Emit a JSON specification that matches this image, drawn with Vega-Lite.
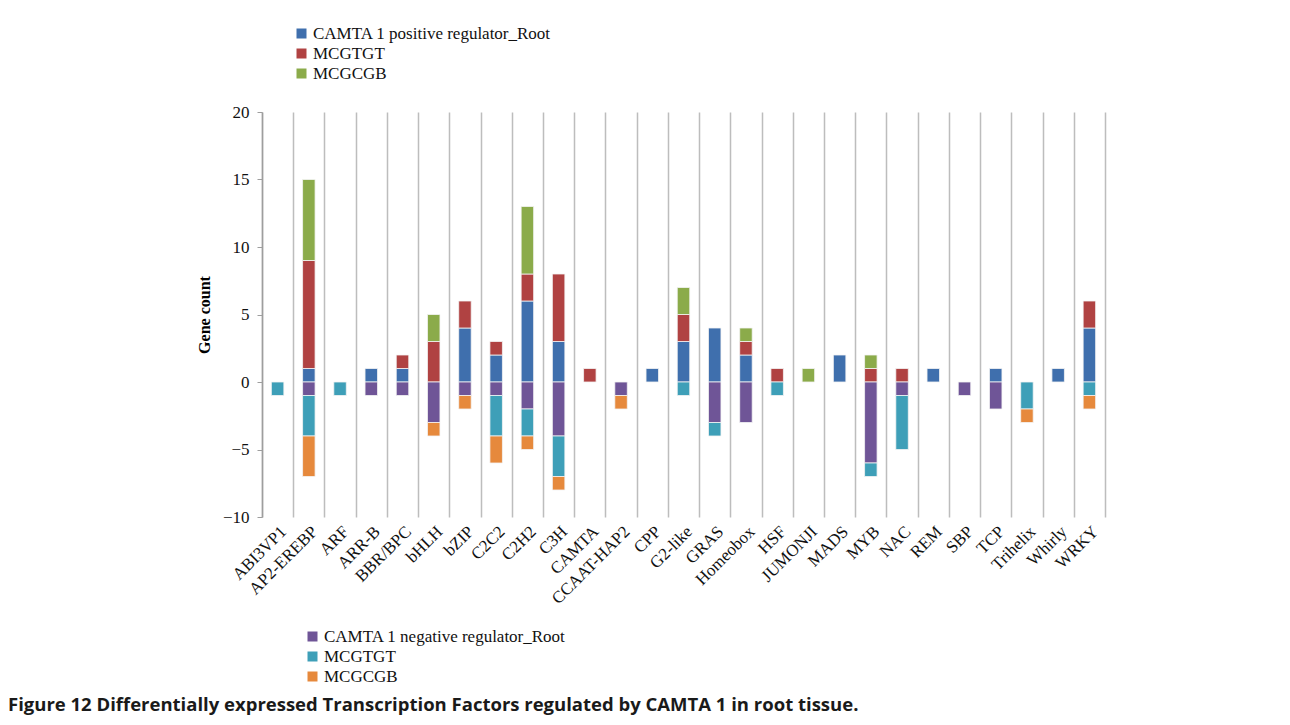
{
  "$schema": "https://vega.github.io/schema/vega-lite/v6.json",
  "width": 843,
  "height": 405,
  "autosize": "none",
  "padding": {"left": 262, "top": 112, "right": 185, "bottom": 208},
  "background": "white",
  "title": {
    "text": "Figure 12 Differentially expressed Transcription Factors regulated by CAMTA 1 in root tissue.",
    "orient": "bottom",
    "anchor": "start",
    "frame": "group",
    "font": "Open Sans",
    "fontSize": 18.5,
    "fontWeight": "bold",
    "color": "#1a1a1a",
    "offset": 11,
    "dx": -254
  },
  "data": {
    "values": [
      {"tf": "ABI3VP1", "series": "MCGTGT", "sign": "neg", "count": -1},
      {"tf": "AP2-EREBP", "series": "CAMTA 1 positive regulator_Root", "sign": "pos", "count": 1},
      {"tf": "AP2-EREBP", "series": "MCGTGT", "sign": "pos", "count": 8},
      {"tf": "AP2-EREBP", "series": "MCGCGB", "sign": "pos", "count": 6},
      {"tf": "AP2-EREBP", "series": "CAMTA 1 negative regulator_Root", "sign": "neg", "count": -1},
      {"tf": "AP2-EREBP", "series": "MCGTGT", "sign": "neg", "count": -3},
      {"tf": "AP2-EREBP", "series": "MCGCGB", "sign": "neg", "count": -3},
      {"tf": "ARF", "series": "MCGTGT", "sign": "neg", "count": -1},
      {"tf": "ARR-B", "series": "CAMTA 1 positive regulator_Root", "sign": "pos", "count": 1},
      {"tf": "ARR-B", "series": "CAMTA 1 negative regulator_Root", "sign": "neg", "count": -1},
      {"tf": "BBR/BPC", "series": "CAMTA 1 positive regulator_Root", "sign": "pos", "count": 1},
      {"tf": "BBR/BPC", "series": "MCGTGT", "sign": "pos", "count": 1},
      {"tf": "BBR/BPC", "series": "CAMTA 1 negative regulator_Root", "sign": "neg", "count": -1},
      {"tf": "bHLH", "series": "MCGTGT", "sign": "pos", "count": 3},
      {"tf": "bHLH", "series": "MCGCGB", "sign": "pos", "count": 2},
      {"tf": "bHLH", "series": "CAMTA 1 negative regulator_Root", "sign": "neg", "count": -3},
      {"tf": "bHLH", "series": "MCGCGB", "sign": "neg", "count": -1},
      {"tf": "bZIP", "series": "CAMTA 1 positive regulator_Root", "sign": "pos", "count": 4},
      {"tf": "bZIP", "series": "MCGTGT", "sign": "pos", "count": 2},
      {"tf": "bZIP", "series": "CAMTA 1 negative regulator_Root", "sign": "neg", "count": -1},
      {"tf": "bZIP", "series": "MCGCGB", "sign": "neg", "count": -1},
      {"tf": "C2C2", "series": "CAMTA 1 positive regulator_Root", "sign": "pos", "count": 2},
      {"tf": "C2C2", "series": "MCGTGT", "sign": "pos", "count": 1},
      {"tf": "C2C2", "series": "CAMTA 1 negative regulator_Root", "sign": "neg", "count": -1},
      {"tf": "C2C2", "series": "MCGTGT", "sign": "neg", "count": -3},
      {"tf": "C2C2", "series": "MCGCGB", "sign": "neg", "count": -2},
      {"tf": "C2H2", "series": "CAMTA 1 positive regulator_Root", "sign": "pos", "count": 6},
      {"tf": "C2H2", "series": "MCGTGT", "sign": "pos", "count": 2},
      {"tf": "C2H2", "series": "MCGCGB", "sign": "pos", "count": 5},
      {"tf": "C2H2", "series": "CAMTA 1 negative regulator_Root", "sign": "neg", "count": -2},
      {"tf": "C2H2", "series": "MCGTGT", "sign": "neg", "count": -2},
      {"tf": "C2H2", "series": "MCGCGB", "sign": "neg", "count": -1},
      {"tf": "C3H", "series": "CAMTA 1 positive regulator_Root", "sign": "pos", "count": 3},
      {"tf": "C3H", "series": "MCGTGT", "sign": "pos", "count": 5},
      {"tf": "C3H", "series": "CAMTA 1 negative regulator_Root", "sign": "neg", "count": -4},
      {"tf": "C3H", "series": "MCGTGT", "sign": "neg", "count": -3},
      {"tf": "C3H", "series": "MCGCGB", "sign": "neg", "count": -1},
      {"tf": "CAMTA", "series": "MCGTGT", "sign": "pos", "count": 1},
      {"tf": "CCAAT-HAP2", "series": "CAMTA 1 negative regulator_Root", "sign": "neg", "count": -1},
      {"tf": "CCAAT-HAP2", "series": "MCGCGB", "sign": "neg", "count": -1},
      {"tf": "CPP", "series": "CAMTA 1 positive regulator_Root", "sign": "pos", "count": 1},
      {"tf": "G2-like", "series": "CAMTA 1 positive regulator_Root", "sign": "pos", "count": 3},
      {"tf": "G2-like", "series": "MCGTGT", "sign": "pos", "count": 2},
      {"tf": "G2-like", "series": "MCGCGB", "sign": "pos", "count": 2},
      {"tf": "G2-like", "series": "MCGTGT", "sign": "neg", "count": -1},
      {"tf": "GRAS", "series": "CAMTA 1 positive regulator_Root", "sign": "pos", "count": 4},
      {"tf": "GRAS", "series": "CAMTA 1 negative regulator_Root", "sign": "neg", "count": -3},
      {"tf": "GRAS", "series": "MCGTGT", "sign": "neg", "count": -1},
      {"tf": "Homeobox", "series": "CAMTA 1 positive regulator_Root", "sign": "pos", "count": 2},
      {"tf": "Homeobox", "series": "MCGTGT", "sign": "pos", "count": 1},
      {"tf": "Homeobox", "series": "MCGCGB", "sign": "pos", "count": 1},
      {"tf": "Homeobox", "series": "CAMTA 1 negative regulator_Root", "sign": "neg", "count": -3},
      {"tf": "HSF", "series": "MCGTGT", "sign": "pos", "count": 1},
      {"tf": "HSF", "series": "MCGTGT", "sign": "neg", "count": -1},
      {"tf": "JUMONJI", "series": "MCGCGB", "sign": "pos", "count": 1},
      {"tf": "MADS", "series": "CAMTA 1 positive regulator_Root", "sign": "pos", "count": 2},
      {"tf": "MYB", "series": "MCGTGT", "sign": "pos", "count": 1},
      {"tf": "MYB", "series": "MCGCGB", "sign": "pos", "count": 1},
      {"tf": "MYB", "series": "CAMTA 1 negative regulator_Root", "sign": "neg", "count": -6},
      {"tf": "MYB", "series": "MCGTGT", "sign": "neg", "count": -1},
      {"tf": "NAC", "series": "MCGTGT", "sign": "pos", "count": 1},
      {"tf": "NAC", "series": "CAMTA 1 negative regulator_Root", "sign": "neg", "count": -1},
      {"tf": "NAC", "series": "MCGTGT", "sign": "neg", "count": -4},
      {"tf": "REM", "series": "CAMTA 1 positive regulator_Root", "sign": "pos", "count": 1},
      {"tf": "SBP", "series": "CAMTA 1 negative regulator_Root", "sign": "neg", "count": -1},
      {"tf": "TCP", "series": "CAMTA 1 positive regulator_Root", "sign": "pos", "count": 1},
      {"tf": "TCP", "series": "CAMTA 1 negative regulator_Root", "sign": "neg", "count": -2},
      {"tf": "Trihelix", "series": "MCGTGT", "sign": "neg", "count": -2},
      {"tf": "Trihelix", "series": "MCGCGB", "sign": "neg", "count": -1},
      {"tf": "Whirly", "series": "CAMTA 1 positive regulator_Root", "sign": "pos", "count": 1},
      {"tf": "WRKY", "series": "CAMTA 1 positive regulator_Root", "sign": "pos", "count": 4},
      {"tf": "WRKY", "series": "MCGTGT", "sign": "pos", "count": 2},
      {"tf": "WRKY", "series": "MCGTGT", "sign": "neg", "count": -1},
      {"tf": "WRKY", "series": "MCGCGB", "sign": "neg", "count": -1}
    ]
  },
  "transform": [
    {"calculate": "datum.series == 'MCGTGT' ? 1 : (datum.series == 'MCGCGB' ? 2 : 0)", "as": "stackOrder"}
  ],
  "encoding": {
    "x": {
      "field": "tf",
      "type": "nominal",
      "sort": ["ABI3VP1","AP2-EREBP","ARF","ARR-B","BBR/BPC","bHLH","bZIP","C2C2","C2H2","C3H","CAMTA","CCAAT-HAP2","CPP","G2-like","GRAS","Homeobox","HSF","JUMONJI","MADS","MYB","NAC","REM","SBP","TCP","Trihelix","Whirly","WRKY"],
      "scale": {"paddingInner": 0, "paddingOuter": 0},
      "axis": {
        "title": null,
        "domain": false,
        "ticks": false,
        "grid": true,
        "tickBand": "extent",
        "gridColor": "#bdbdbd",
        "gridWidth": 1.5,
        "labelAngle": -45,
        "labelFont": "Liberation Serif",
        "labelFontSize": 17,
        "labelColor": "#111111",
        "labelPadding": 6
      }
    }
  },
  "layer": [
    {
      "mark": {"type": "rule", "color": "#9e9e9e", "strokeWidth": 1.5},
      "encoding": {"y": {"datum": 0, "type": "quantitative"}}
    },
    {
      "transform": [{"filter": "datum.sign == 'pos'"}],
      "mark": {"type": "bar", "width": {"band": 0.4}, "stroke": "#f4f4f4", "strokeWidth": 0.8},
      "encoding": {
        "y": {
          "field": "count",
          "type": "quantitative",
          "stack": "zero",
          "scale": {"domain": [-10, 20], "nice": false},
          "axis": {
            "title": "Gene count",
            "titleFont": "Liberation Serif",
            "titleFontSize": 16,
            "titleFontWeight": "bold",
            "titleColor": "#000000",
            "titlePadding": 10,
            "values": [-10, -5, 0, 5, 10, 15, 20],
            "grid": false,
            "domainColor": "#9e9e9e",
            "domainWidth": 1.5,
            "tickColor": "#9e9e9e",
            "tickSize": 5,
            "labelFont": "Liberation Serif",
            "labelFontSize": 17,
            "labelColor": "#111111",
            "labelPadding": 8
          }
        },
        "order": {"field": "stackOrder", "type": "quantitative", "sort": "ascending"},
        "color": {
          "field": "series",
          "type": "nominal",
          "scale": {
            "domain": ["CAMTA 1 positive regulator_Root", "MCGTGT", "MCGCGB"],
            "range": ["#3f6fad", "#b04242", "#8bab4a"]
          },
          "legend": {
            "title": null,
            "orient": "none",
            "legendX": 31,
            "legendY": -87,
            "symbolType": "square",
            "symbolSize": 100,
            "symbolStrokeWidth": 0,
            "labelFont": "Liberation Serif",
            "labelFontSize": 17,
            "labelColor": "#111111",
            "labelLimit": 0,
            "rowPadding": 2,
            "labelOffset": 3
          }
        }
      }
    },
    {
      "transform": [{"filter": "datum.sign == 'neg'"}],
      "mark": {"type": "bar", "width": {"band": 0.4}, "stroke": "#f4f4f4", "strokeWidth": 0.8},
      "encoding": {
        "y": {"field": "count", "type": "quantitative", "stack": "zero"},
        "order": {"field": "stackOrder", "type": "quantitative", "sort": "ascending"},
        "color": {
          "field": "series",
          "type": "nominal",
          "scale": {
            "domain": ["CAMTA 1 negative regulator_Root", "MCGTGT", "MCGCGB"],
            "range": ["#6f5597", "#3e9fb8", "#e6893c"]
          },
          "legend": {
            "title": null,
            "orient": "none",
            "legendX": 42,
            "legendY": 516,
            "symbolType": "square",
            "symbolSize": 100,
            "symbolStrokeWidth": 0,
            "labelFont": "Liberation Serif",
            "labelFontSize": 17,
            "labelColor": "#111111",
            "labelLimit": 0,
            "rowPadding": 2,
            "labelOffset": 3
          }
        }
      }
    }
  ],
  "resolve": {"scale": {"color": "independent"}},
  "config": {"view": {"stroke": null}}
}
